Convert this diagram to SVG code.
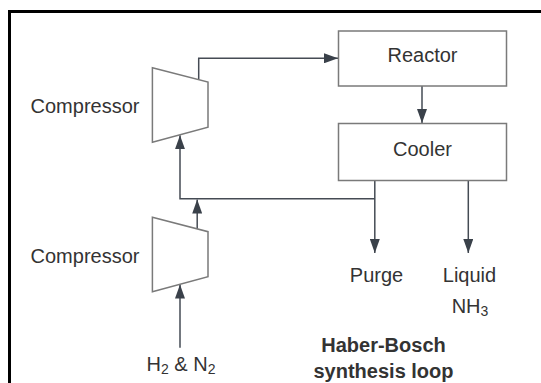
<svg xmlns="http://www.w3.org/2000/svg" width="541" height="383" viewBox="0 0 541 383">
<style>
.shape{fill:#fff;stroke:#7a7a7a;stroke-width:1.5}
.conn{fill:none;stroke:#454b54;stroke-width:1.5}
.t{font-family:"Liberation Sans",Arial,sans-serif;font-size:20px;fill:#333;text-anchor:middle}
.b{font-weight:bold}
</style>
<defs>
<marker id="ah" viewBox="0 0 14 10" refX="14" refY="5" markerWidth="14" markerHeight="10" markerUnits="userSpaceOnUse" orient="auto">
<path d="M0,0 L14,5 L0,10 z" fill="#3a414a"/>
</marker>
</defs>
<rect width="541" height="383" fill="#fff"/>
<path d="M9.5,390 V11.5 H545" fill="none" stroke="#000" stroke-width="3"/>
<g id="connectors">
<path class="conn" d="M198.7,79.6 V58.3 H338" marker-end="url(#ah)"/>
<path class="conn" d="M422,86 V123" marker-end="url(#ah)"/>
<path class="conn" d="M374.8,180.5 V253" marker-end="url(#ah)"/>
<path class="conn" d="M374.8,198.7 H180 V135.2" marker-end="url(#ah)"/>
<path class="conn" d="M468.3,180.5 V253" marker-end="url(#ah)"/>
<path class="conn" d="M197.2,229 V199.5" marker-end="url(#ah)"/>
<path class="conn" d="M180,347.7 V284.5" marker-end="url(#ah)"/>
</g>
<g id="reactor">
<rect class="shape" x="338.5" y="31" width="168" height="55"/>
<text class="t" x="422.5" y="62">Reactor</text>
</g>
<g id="cooler">
<rect class="shape" x="338.5" y="123.5" width="168" height="57"/>
<text class="t" x="422.5" y="155.5">Cooler</text>
</g>
<g id="compressor-upper">
<polygon class="shape" points="152.4,67.7 208,82 208,127.3 152.4,142.3"/>
<text class="t" x="85" y="113">Compressor</text>
</g>
<g id="compressor-lower">
<polygon class="shape" points="152.4,217.3 208,231.7 208,276.7 152.4,291.7"/>
<text class="t" x="85" y="262.5">Compressor</text>
</g>
<g id="purge">
<text class="t" x="376.5" y="281.5">Purge</text>
</g>
<g id="liquid-nh3">
<text class="t" x="469.5" y="281.5">Liquid</text>
<text class="t" x="470" y="313">NH<tspan font-size="14" dy="3">3</tspan></text>
</g>
<g id="feed">
<text class="t" x="181" y="371">H<tspan font-size="14" dy="3">2</tspan><tspan dy="-3"> &amp; N</tspan><tspan font-size="14" dy="3">2</tspan></text>
</g>
<g id="title">
<text class="t b" x="383.5" y="352">Haber-Bosch</text>
<text class="t b" x="383.5" y="377.5">synthesis loop</text>
</g>
</svg>
